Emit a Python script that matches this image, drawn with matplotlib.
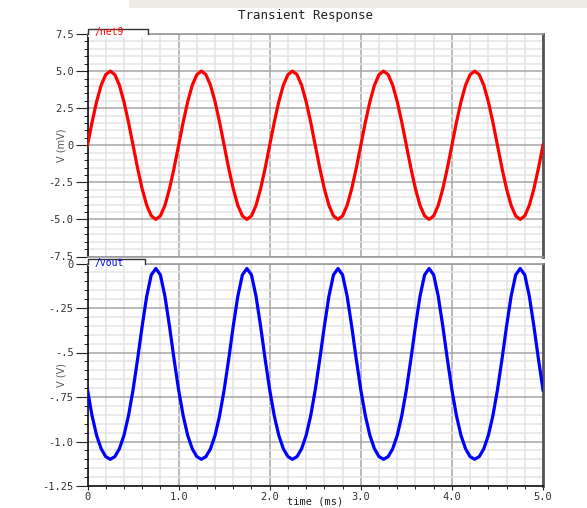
import numpy as np
import matplotlib
matplotlib.use("Agg")
import matplotlib.pyplot as plt
from matplotlib.ticker import FixedLocator, FixedFormatter, MultipleLocator
from matplotlib.patches import Rectangle
from matplotlib.lines import Line2D

# ---- data ----
time_ms = np.linspace(0.0, 5.0, 101)

net9_mV = [
    0, 1.55, 2.94, 4.05, 4.76, 5.0, 4.76, 4.05, 2.94, 1.55,
    0, -1.55, -2.94, -4.05, -4.76, -5.0, -4.76, -4.05, -2.94, -1.55,
    0, 1.55, 2.94, 4.05, 4.76, 5.0, 4.76, 4.05, 2.94, 1.55,
    0, -1.55, -2.94, -4.05, -4.76, -5.0, -4.76, -4.05, -2.94, -1.55,
    0, 1.55, 2.94, 4.05, 4.76, 5.0, 4.76, 4.05, 2.94, 1.55,
    0, -1.55, -2.94, -4.05, -4.76, -5.0, -4.76, -4.05, -2.94, -1.55,
    0, 1.55, 2.94, 4.05, 4.76, 5.0, 4.76, 4.05, 2.94, 1.55,
    0, -1.55, -2.94, -4.05, -4.76, -5.0, -4.76, -4.05, -2.94, -1.55,
    0, 1.55, 2.94, 4.05, 4.76, 5.0, 4.76, 4.05, 2.94, 1.55,
    0, -1.55, -2.94, -4.05, -4.76, -5.0, -4.76, -4.05, -2.94, -1.55,
    0,
]

vout_V = [
    -0.71, -0.855, -0.966, -1.041, -1.085, -1.100, -1.085, -1.041, -0.966, -0.855,
    -0.71, -0.537, -0.352, -0.184, -0.064, -0.028, -0.064, -0.184, -0.352, -0.537,
    -0.71, -0.855, -0.966, -1.041, -1.085, -1.100, -1.085, -1.041, -0.966, -0.855,
    -0.71, -0.537, -0.352, -0.184, -0.064, -0.028, -0.064, -0.184, -0.352, -0.537,
    -0.71, -0.855, -0.966, -1.041, -1.085, -1.100, -1.085, -1.041, -0.966, -0.855,
    -0.71, -0.537, -0.352, -0.184, -0.064, -0.028, -0.064, -0.184, -0.352, -0.537,
    -0.71, -0.855, -0.966, -1.041, -1.085, -1.100, -1.085, -1.041, -0.966, -0.855,
    -0.71, -0.537, -0.352, -0.184, -0.064, -0.028, -0.064, -0.184, -0.352, -0.537,
    -0.71, -0.855, -0.966, -1.041, -1.085, -1.100, -1.085, -1.041, -0.966, -0.855,
    -0.71, -0.537, -0.352, -0.184, -0.064, -0.028, -0.064, -0.184, -0.352, -0.537,
    -0.71,
]

top_yticks = [7.5, 5.0, 2.5, 0, -2.5, -5.0, -7.5]
top_ylabels = ["7.5", "5.0", "2.5", "0", "-2.5", "-5.0", "-7.5"]
bot_yticks = [0, -0.25, -0.5, -0.75, -1.0, -1.25]
bot_ylabels = ["0", "-.25", "-.5", "-.75", "-1.0", "-1.25"]
xticks = [0, 1, 2, 3, 4, 5]
xlabels = ["0", "1.0", "2.0", "3.0", "4.0", "5.0"]

title = "Transient Response"
top_name = "/net9"
bot_name = "/vout"

# ---- figure ----
W, H = 587, 508
fig = plt.figure(figsize=(W / 100, H / 100), dpi=100)
fig.patch.set_facecolor("white")

# faint strip at the very top of the screenshot
fig.patches.append(Rectangle((0.22, 1 - 8 / H), 0.78, 8 / H, transform=fig.transFigure,
                             facecolor="#eeeae6", edgecolor="none", zorder=0))

left = 87.5 / W
width = (543 - 87.5) / W
ax1 = fig.add_axes([left, 1 - 256.5 / H, width, (256.5 - 34) / H])
ax2 = fig.add_axes([left, 1 - 486 / H, width, (486 - 263.5) / H])

mono = "DejaVu Sans Mono"
tick_fs = 7.5

def style(ax, yticks, ylabels, ylim, yminor, show_x):
    ax.set_xlim(0, 5)
    ax.set_ylim(*ylim)
    ax.yaxis.set_major_locator(FixedLocator(yticks))
    ax.yaxis.set_major_formatter(FixedFormatter(ylabels))
    ax.yaxis.set_minor_locator(MultipleLocator(yminor))
    ax.xaxis.set_major_locator(FixedLocator(xticks))
    ax.xaxis.set_minor_locator(MultipleLocator(0.2))
    ax.grid(True, which="minor", color="#e4e4e4", lw=1.1, zorder=0)
    ax.grid(True, which="major", color="#a6a6a6", lw=1.1, zorder=0.5)
    ax.set_axisbelow(True)
    ax.tick_params(axis="y", which="major", direction="out", length=9, width=0.8,
                   color="#222222", labelsize=tick_fs, labelcolor="#333333", pad=1)
    ax.tick_params(axis="y", which="minor", direction="out", length=3, width=0.7,
                   color="#222222")
    for lab in ax.get_yticklabels():
        lab.set_fontfamily(mono)
    if show_x:
        ax.xaxis.set_major_formatter(FixedFormatter(xlabels))
        ax.tick_params(axis="x", which="major", direction="out", length=3, width=0.8,
                       color="#222222", labelsize=tick_fs, labelcolor="#333333", pad=1)
        ax.tick_params(axis="x", which="minor", direction="out", length=2, width=0.7,
                       color="#222222")
        for lab in ax.get_xticklabels():
            lab.set_fontfamily(mono)
    else:
        ax.tick_params(axis="x", which="both", length=0, labelbottom=False)
    ax.spines["left"].set_color("#111111")
    ax.spines["left"].set_linewidth(1.2)
    ax.spines["right"].set_color("#555555")
    ax.spines["right"].set_linewidth(2.0)
    ax.spines["top"].set_color("#9a9a9a")
    ax.spines["top"].set_linewidth(1.2)
    ax.spines["bottom"].set_color("#9a9a9a" if not show_x else "#111111")
    ax.spines["bottom"].set_linewidth(1.2)

style(ax1, top_yticks, top_ylabels, (-7.5, 7.5), 0.5, False)
style(ax2, bot_yticks, bot_ylabels, (-1.25, 0), 0.05, True)

ax1.plot(time_ms, net9_mV, color="#ff0000", lw=2.3, solid_joinstyle="round", zorder=3)
ax2.plot(time_ms, vout_V, color="#0000ff", lw=2.3, solid_joinstyle="round", zorder=3)

ax1.set_ylabel("V (mV)", fontsize=7, color="#555555")
ax1.yaxis.set_label_coords((67 - 87.5) / 455.5, 0.5)
ax2.set_ylabel("V (V)", fontsize=7, color="#555555")
ax2.yaxis.set_label_coords((67 - 87.5) / 455.5, 0.5)
ax2.set_xlabel("time (ms)", fontsize=7.5, color="#222222", family=mono)
ax2.xaxis.set_label_coords(0.5, -(496 - 486) / 222.5)

# signal-name tabs
def tab(ax, name, color, wpx, hpx, ypx_text):
    axh = 222.5
    wa = wpx / 455.5
    ha = hpx / axh
    ax.add_patch(Rectangle((0, 1 - 2.5 / axh), wa, ha + 2.5 / axh, transform=ax.transAxes,
                           facecolor="white", edgecolor="none", clip_on=False, zorder=4))
    ax.add_line(Line2D([0, 0, wa, wa], [1, 1 + ha, 1 + ha, 1], transform=ax.transAxes,
                       color="#333333", lw=1.0, clip_on=False, zorder=5))
    ax.text(7.5 / 455.5, 1 + ypx_text / axh, name, transform=ax.transAxes, color=color,
            fontsize=7, family=mono, va="center", ha="left", zorder=6, clip_on=False)

tab(ax1, top_name, "#ff0000", 148.3 - 87.5, 5.5, 1.5)
tab(ax2, bot_name, "#0000ff", 145 - 87.5, 4.2, 0.5)

fig.text(305 / W, 1 - 16 / H, title, ha="center", va="center", fontsize=9,
         family=mono, color="#222222")

fig.savefig("out.png", dpi=100, facecolor="white")
